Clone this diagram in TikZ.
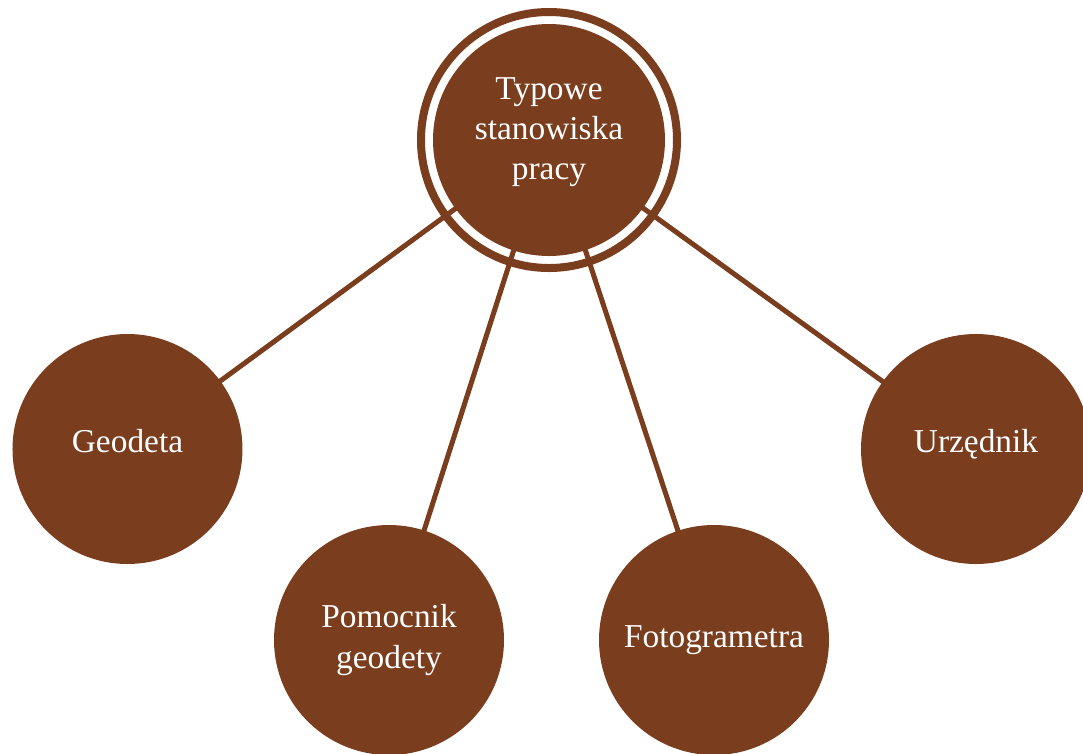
\documentclass[tikz,border=0pt]{standalone}
\usepackage{fontspec}
\setmainfont{Liberation Serif}
\usepackage{xcolor}
\definecolor{rudy}{RGB}{122,61,29}
\usepackage{tikz}
\usetikzlibrary{calc}

\begin{document}
\begin{tikzpicture}[auto, node distance=2cm,
  font=\fontsize{19pt}{22.8pt}\selectfont]
\tikzset{role/.style = {circle, fill=rudy, minimum size=4.6cm, inner sep=0pt}}
\tikzset{rolelabel/.style = {text=white, align=center, inner sep=0pt}}
\tikzset{ring/.style = {circle, draw=rudy, fill=white, line width=.16cm,
  minimum size=5.12cm, inner sep=0pt}}
\tikzset{link/.style = {draw=rudy, line width=.1cm}}
\pgfdeclarelayer{background}
\pgfdeclarelayer{foreground}
\pgfsetlayers{background,main,foreground}

  \useasboundingbox (-10.98,2.8) rectangle (10.68,-12.26);

  \begin{pgfonlayer}{foreground}
    \node[role, minimum size=4.64cm,
      label={[rolelabel, yshift=.15cm]center:Typowe\\stanowiska\\pracy}]
      (typowe) at (0,0) {};

    \node[role, node distance=6.18cm, below of=typowe, xshift=-8.43cm,
      label={[rolelabel, yshift=.16cm]center:Geodeta}]
      (geodeta){};
    \node[role, node distance=6.18cm, below of=typowe, xshift=8.54cm,
      label={[rolelabel, yshift=.1cm]center:Urzędnik}]
      (urzednik){};

    \node[role, node distance=10cm, below of=typowe, xshift=-3.2cm,
      label={[rolelabel]center:Pomocnik\\geodety}]
      (pomocnik){};
    \node[role, node distance=10cm, below of=typowe, xshift=3.3cm,
      label={[rolelabel]center:Fotogrametra}]
      (fotogrametra){};
  \end{pgfonlayer}

  \begin{pgfonlayer}{background}
    \node[ring] (obwodka) at (typowe) {};
  \end{pgfonlayer}

  \draw[link] (typowe.center) -- (geodeta.center);
  \draw[link] (typowe.center) -- (pomocnik.center);
  \draw[link] (typowe.center) -- (fotogrametra.center);
  \draw[link] (typowe.center) -- (urzednik.center);

\end{tikzpicture}
\end{document}
